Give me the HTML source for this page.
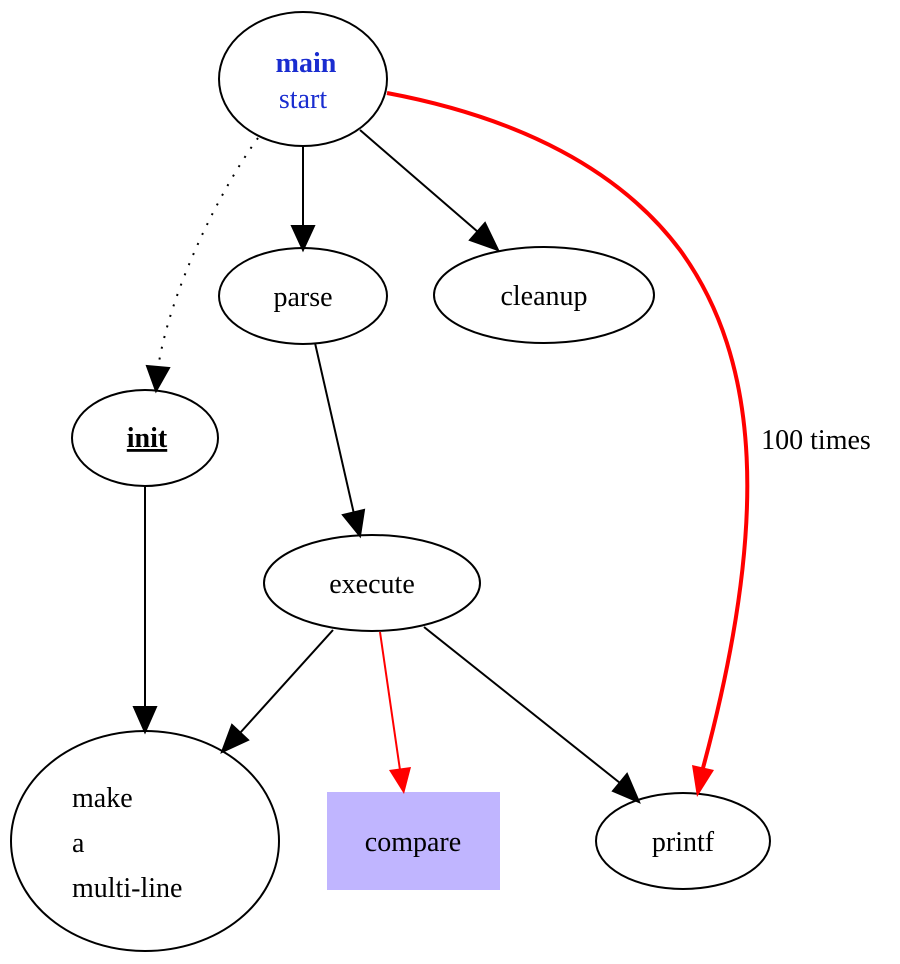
<!DOCTYPE html>
<html><head><meta charset="utf-8"><style>html,body{margin:0;padding:0;background:#fff}svg{display:block}</style></head>
<body>
<svg width="900" height="964" viewBox="0 0 900 964" xmlns="http://www.w3.org/2000/svg" font-family="'Liberation Serif', serif" font-size="28">
<defs>
<marker id="ab" markerWidth="10" markerHeight="10" refX="9" refY="5" orient="auto" markerUnits="userSpaceOnUse" viewBox="0 0 10 10"><path d="M0,0 L10,5 L0,10 z" fill="#000"/></marker>
<marker id="ar" markerWidth="10" markerHeight="10" refX="9" refY="5" orient="auto" markerUnits="userSpaceOnUse" viewBox="0 0 10 10"><path d="M0,0 L10,5 L0,10 z" fill="red"/></marker>
</defs>
<g fill="none" stroke="#000" stroke-width="2">
<ellipse cx="303" cy="79" rx="84" ry="67"/>
<ellipse cx="303" cy="296" rx="84" ry="48"/>
<ellipse cx="544" cy="295" rx="110" ry="48"/>
<ellipse cx="145" cy="438" rx="73" ry="48"/>
<ellipse cx="372" cy="583" rx="108" ry="48"/>
<ellipse cx="145" cy="841" rx="134" ry="110"/>
<ellipse cx="683" cy="841" rx="87" ry="48"/>
</g>
<rect x="327" y="792" width="173" height="98" fill="#c0b5ff"/>
<g stroke="#000" stroke-width="2" fill="none">
<path d="M303,146 L303,228"/>
<polygon points="292,226 314,226 303,250" fill="#000"/>
<path d="M360,130 L478,232"/>
<polygon points="470,240 485,223 498,250" fill="#000"/>
<path d="M258,138 C220,190 170,290 158,368" stroke-dasharray="2,9"/>
<polygon points="147,366 169,368 156,391" fill="#000"/>
<path d="M315,343 L354,514"/>
<polygon points="343,515 364,510 360,536" fill="#000"/>
<path d="M145,487 L145,708"/>
<polygon points="134,707 156,707 145,732" fill="#000"/>
<path d="M333,630 L240,733"/>
<polygon points="232,725 248,740 222,752" fill="#000"/>
<path d="M424,627 L620,783"/>
<polygon points="613,791 627,774 639,802" fill="#000"/>
</g>
<path d="M380,632 L400,770" stroke="red" stroke-width="2" fill="none"/>
<polygon points="389,770 411,767 404,794" fill="red"/>
<path d="M387,93 C520,118 620,170 680,250 C760,360 770,520 703,768" stroke="red" stroke-width="4" fill="none"/>
<polygon points="692,765 714,770 697,797" fill="red"/>
<g text-anchor="middle">
<text x="306" y="72" fill="#1a2dd0" font-weight="bold">main</text>
<text x="303" y="108" fill="#1a2dd0">start</text>
<text x="303" y="306">parse</text>
<text x="544" y="305">cleanup</text>
<text x="147" y="447" font-weight="bold" text-decoration="underline">init</text>
<text x="372" y="593">execute</text>
<text x="413" y="851">compare</text>
<text x="683" y="851">printf</text>
<text x="816" y="449">100 times</text>
</g>
<g>
<text x="72" y="807">make</text>
<text x="72" y="852">a</text>
<text x="72" y="897">multi-line</text>
</g>
</svg>
</body></html>
